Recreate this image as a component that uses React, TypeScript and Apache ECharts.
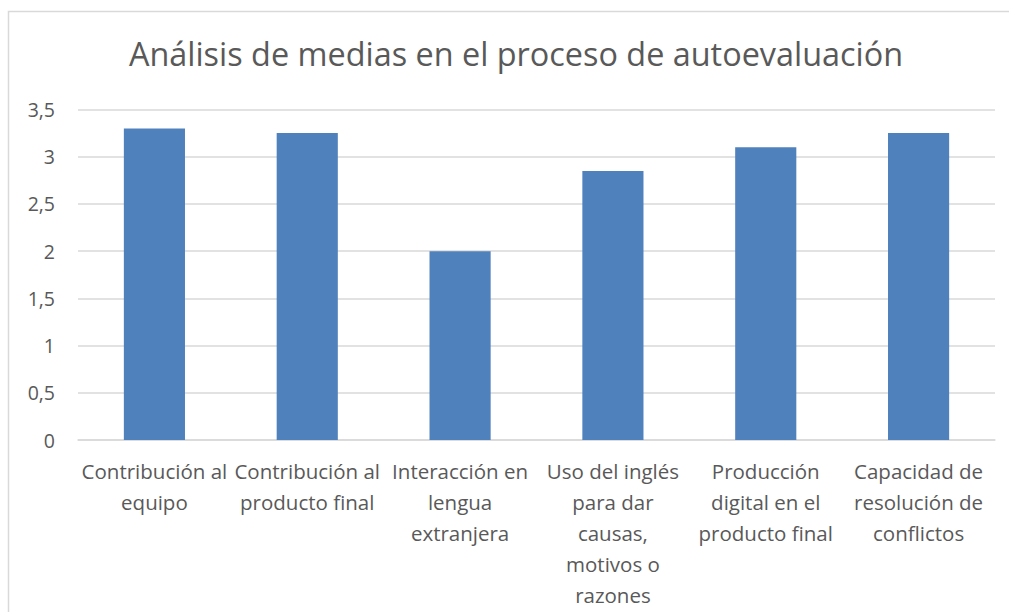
import React, { useEffect, useRef } from "react";
import * as echarts from "echarts";

const titleText = "Análisis de medias en el proceso de autoevaluación";
const categories = [
  "Contribución al\nequipo",
  "Contribución al\nproducto final",
  "Interacción en\nlengua\nextranjera",
  "Uso del inglés\npara dar\ncausas,\nmotivos o\nrazones",
  "Producción\ndigital en el\nproducto final",
  "Capacidad de\nresolución de\nconflictos",
];
const values = [3.3, 3.25, 2.0, 2.85, 3.1, 3.25];
const yMin = 0;
const yMax = 3.5;
const yInterval = 0.5;

const FONT = "'Open Sans', 'Noto Sans', sans-serif";
const TEXT = "#595959";

export default function App() {
  const ref = useRef<HTMLDivElement>(null);
  useEffect(() => {
    if (!ref.current) return;
    const chart = echarts.init(ref.current, null, { renderer: "svg" });
    chart.setOption({
      animation: false,
      backgroundColor: "#ffffff",
      textStyle: { fontFamily: FONT },
      title: {
        text: titleText,
        left: 511,
        top: 32,
        textAlign: "center",
        textStyle: { fontSize: 32.4, fontWeight: "normal", color: TEXT, fontFamily: FONT },
      },
      graphic: [
        {
          type: "rect",
          shape: { x: 8.5, y: 11.5, width: 1200, height: 1000 },
          style: { fill: "none", stroke: "#d9d9d9", lineWidth: 1.5 },
          silent: true,
        },
      ],
      grid: { left: 78, right: 14, top: 109.5, bottom: 172, containLabel: false },
      xAxis: {
        type: "category",
        data: categories,
        axisTick: { show: false },
        axisLine: { lineStyle: { color: "#d9d9d9", width: 1.5 } },
        axisLabel: {
          interval: 0,
          margin: 15,
          fontSize: 20.5,
          lineHeight: 31,
          color: TEXT,
          fontFamily: FONT,
          align: "center",
        },
      },
      yAxis: {
        type: "value",
        min: yMin,
        max: yMax,
        interval: yInterval,
        axisLine: { show: false },
        axisTick: { show: false },
        splitLine: { lineStyle: { color: "#d9d9d9", width: 1.5 } },
        axisLabel: {
          margin: 23,
          fontSize: 19.5,
          color: TEXT,
          fontFamily: FONT,
          formatter: (v: number) => String(v).replace(".", ","),
        },
      },
      series: [
        {
          type: "bar",
          data: values,
          barWidth: "40%",
          itemStyle: { color: "#4f81bd" },
        },
      ],
    });
    return () => chart.dispose();
  }, []);
  return (
    <div
      ref={ref}
      style={{ position: "fixed", left: 0, top: 0, width: 1009, height: 612 }}
    />
  );
}
